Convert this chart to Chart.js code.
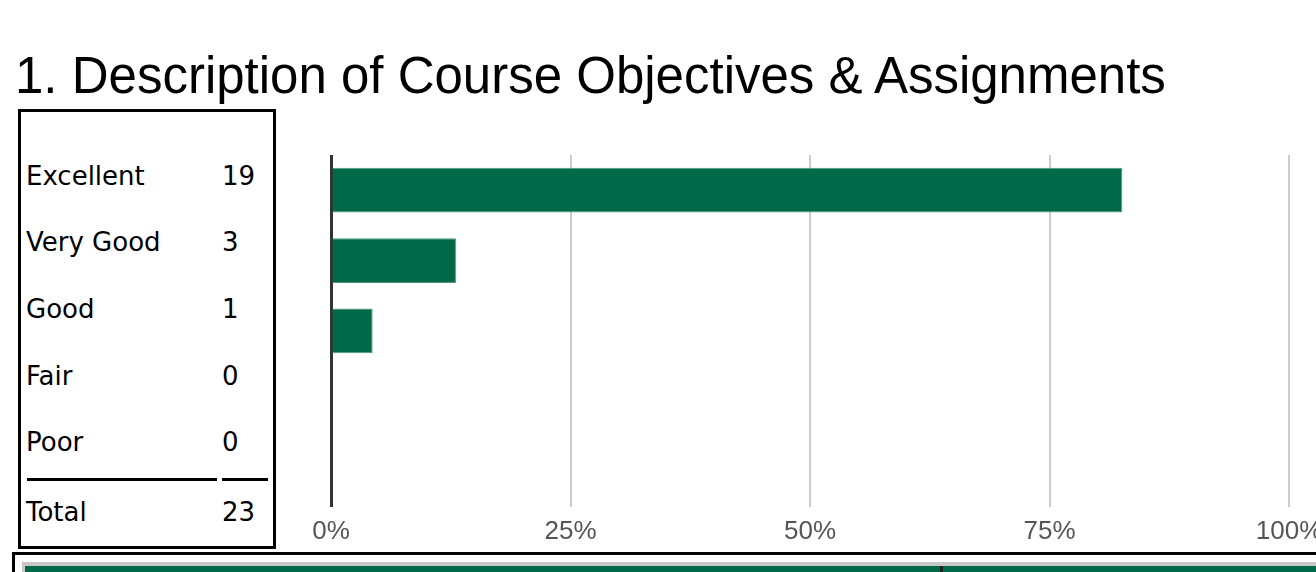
<!DOCTYPE html>
<html>
<head>
<meta charset="utf-8">
<script src="https://cdn.jsdelivr.net/npm/chart.js@4"></script>
<style>
  html, body { margin: 0; padding: 0; background: #fff; width: 1316px; height: 572px; overflow: hidden; }
  h1 { position: absolute; left: 15px; top: 47px; margin: 0; font: 400 51px "Liberation Sans", Arial, sans-serif; color: #000; line-height: 58px; white-space: nowrap; }
  #counts { position: absolute; left: 18px; top: 109px; width: 252px; height: 434px; border: 3px solid #000; font-family: "DejaVu Sans", Verdana, sans-serif; font-size: 26px; color: #000; }
  .row { position: absolute; left: 5px; height: 30px; line-height: 30px; }
  .row .lab { position: absolute; left: 0; white-space: nowrap; }
  .row .num { position: absolute; left: 196px; }
  .rule { position: absolute; top: 366px; height: 3px; background: #000; }
  #chartWrap { position: absolute; left: 290px; top: 141px; width: 1110px; height: 422px; }
  #next { position: absolute; left: 12px; top: 552px; width: 1400px; height: 40px; border-top: 3px solid #000; border-left: 3px solid #000; }
  #next .gray { position: absolute; left: 7px; top: 7px; width: 1400px; height: 30px; background: #c8c8c8; }
  #next .green { position: absolute; left: 10px; top: 11px; width: 1400px; height: 30px; background: #006947; }
  #next .split { position: absolute; left: 925px; top: 11px; width: 3px; height: 30px; background: #222; }
</style>
</head>
<body>
<h1>1. Description of Course Objectives &amp; Assignments</h1>
<div id="counts"></div>
<div id="chartWrap"><canvas id="chart"></canvas></div>
<div id="next"><div class="gray"></div><div class="green"></div><div class="split"></div></div>
<script>
const categories = ['Excellent', 'Very Good', 'Good', 'Fair', 'Poor'];
const counts = [19, 3, 1, 0, 0];
const total = 23;
const tickValues = [0, 25, 50, 75, 100];

// table on the left
const box = document.getElementById('counts');
const rowTops = [49, 115, 182, 249, 315];
categories.forEach((c, i) => {
  const r = document.createElement('div');
  r.className = 'row';
  r.style.top = rowTops[i] + 'px';
  r.innerHTML = '<span class="lab">' + c + '</span><span class="num">' + counts[i] + '</span>';
  box.appendChild(r);
});
const r1 = document.createElement('div'); r1.className = 'rule'; r1.style.left = '6px'; r1.style.width = '190px'; box.appendChild(r1);
const r2 = document.createElement('div'); r2.className = 'rule'; r2.style.left = '201px'; r2.style.width = '46px'; box.appendChild(r2);
const tr = document.createElement('div');
tr.className = 'row';
tr.style.top = '385px';
tr.innerHTML = '<span class="lab">Total</span><span class="num">' + total + '</span>';
box.appendChild(tr);

const ctx = document.getElementById('chart').getContext('2d');
new Chart(ctx, {
  type: 'bar',
  data: {
    labels: categories,
    datasets: [{
      data: counts.map(v => v / total * 100),
      backgroundColor: '#006947',
      borderColor: '#4f9a80',
      borderWidth: 1,
      barPercentage: 0.635,
      categoryPercentage: 1
    }]
  },
  options: {
    indexAxis: 'y',
    responsive: true,
    maintainAspectRatio: false,
    animation: false,
    layout: { padding: { left: 41, right: 111, top: 14, bottom: 7 } },
    plugins: { legend: { display: false }, tooltip: { enabled: false } },
    scales: {
      x: {
        min: 0, max: 100,
        afterBuildTicks: s => { s.ticks = tickValues.map(v => ({ value: v })); },
        border: { display: false },
        grid: {
          drawTicks: false,
          color: c => c.index === 0 ? '#333333' : '#cccccc',
          lineWidth: c => c.index === 0 ? 3 : 2
        },
        ticks: {
          padding: 9,
          color: '#555555',
          font: { family: '"Liberation Sans", Arial, sans-serif', size: 26 },
          callback: v => v + '%'
        }
      },
      y: { display: false }
    }
  }
});
</script>
</body>
</html>
